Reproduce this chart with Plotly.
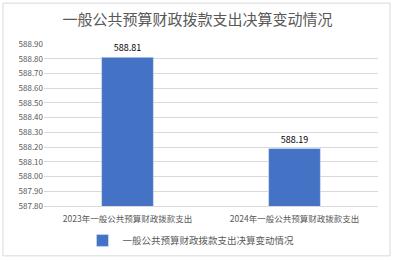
import plotly.graph_objects as go

categories = ["2023年一般公共预算财政拨款支出", "2024年一般公共预算财政拨款支出"]
values = [588.81, 588.19]
value_labels = ["588.81", "588.19"]
series_name = "一般公共预算财政拨款支出决算变动情况"
title_text = "一般公共预算财政拨款支出决算变动情况"
tick_vals = [587.8 + 0.1 * i for i in range(12)]
tick_text = ["587.80", "587.90", "588.00", "588.10", "588.20", "588.30", "588.40",
             "588.50", "588.60", "588.70", "588.80", "588.90"]

W, H = 395, 261
ml, mr, mt, mb = 44, 17, 44, 54.5
pw, ph = W - ml - mr, H - mt - mb

def px(x):
    return (x - ml) / pw

def py(y):
    return (H - mb - y) / ph

font_family = "Noto Sans CJK SC, Microsoft YaHei, sans-serif"

fig = go.Figure()
fig.add_trace(go.Bar(
    x=categories, y=values, name=series_name,
    marker=dict(color="#4472C4"),
    text=value_labels, textposition="outside",
    textfont=dict(size=9, color="#000000"),
    cliponaxis=False,
    showlegend=True,
))

fig.update_layout(
    width=W, height=H,
    margin=dict(l=ml, r=mr, t=mt, b=mb, autoexpand=False),
    paper_bgcolor="white", plot_bgcolor="white",
    font=dict(family=font_family, color="#595959"),
    bargap=0.69,
    title=dict(text=title_text, x=0.5, xanchor="center", y=1 - 20 / H, yanchor="middle",
               font=dict(size=15, color="#595959")),
    xaxis=dict(showgrid=False, showline=True, linecolor="#D9D9D9", linewidth=1,
               ticks="", tickfont=dict(size=8.5, color="#595959"), ticklabelstandoff=5,
               automargin=False),
    yaxis=dict(range=[587.8, 588.9], tickvals=tick_vals, ticktext=tick_text,
               showgrid=True, gridcolor="#D9D9D9", gridwidth=1, zeroline=False,
               showline=False, tickfont=dict(size=8, color="#595959"), ticklen=0,
               ticks="", automargin=False),
    legend=dict(orientation="h", x=0.44, xanchor="center", y=py(241), yanchor="middle",
                font=dict(size=9.5, color="#595959"), itemwidth=30),
    shapes=[dict(type="rect", xref="paper", yref="paper",
                 x0=px(3), x1=px(390), y0=py(256.5), y1=py(3),
                 line=dict(color="#D9D9D9", width=1), fillcolor="rgba(0,0,0,0)", layer="below")],
)

fig.write_html("out.html")
